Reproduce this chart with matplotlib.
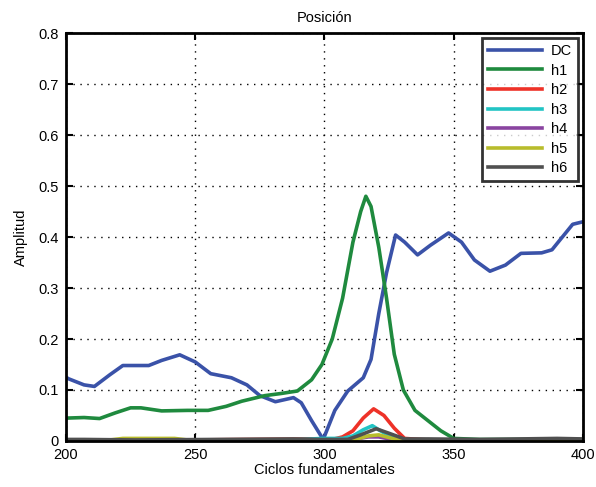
import matplotlib
matplotlib.use("Agg")
import matplotlib.pyplot as plt

plt.rcParams['font.family'] = ['Liberation Sans', 'DejaVu Sans']

# DC component
dc_x = [200, 201, 207, 211, 217, 222, 232, 237, 244, 250, 256, 264, 270, 275, 281, 288,
        291, 295, 299.5, 304, 309, 315, 318, 321, 324, 327.5, 331, 336, 341, 348, 353, 358,
        364, 370, 376, 384, 388, 392, 396, 400]
dc_y = [0.125, 0.122, 0.110, 0.107, 0.130, 0.148, 0.148, 0.158, 0.169, 0.155, 0.132, 0.124,
        0.110, 0.089, 0.077, 0.085, 0.075, 0.040, 0.003, 0.060, 0.098, 0.124, 0.160, 0.250,
        0.330, 0.404, 0.390, 0.365, 0.384, 0.408, 0.390, 0.355, 0.333, 0.345, 0.368, 0.369,
        0.375, 0.400, 0.425, 0.430]

# first harmonic
h1_x = [200, 201, 207, 213, 219, 225, 229, 237, 247, 255, 262, 268, 277, 283, 289.5, 295,
        299, 303, 307, 311, 314, 316, 318, 321, 324, 327, 330.5, 335, 340, 345, 350, 360, 400]
h1_y = [0.045, 0.045, 0.046, 0.044, 0.055, 0.065, 0.065, 0.059, 0.060, 0.060, 0.068, 0.078,
        0.089, 0.093, 0.098, 0.120, 0.150, 0.200, 0.280, 0.390, 0.450, 0.480, 0.460, 0.380,
        0.280, 0.170, 0.100, 0.060, 0.040, 0.020, 0.005, 0.003, 0.003]

h2_x = [200, 248, 297, 303, 307, 311, 315, 319, 323, 327, 331, 340, 400]
h2_y = [0.002, 0.002, 0.004, 0.003, 0.008, 0.020, 0.045, 0.063, 0.050, 0.025, 0.005, 0.002, 0.002]

h3_x = [200, 258, 288, 299, 307, 311, 315, 318.5, 321, 325, 329, 340, 400]
h3_y = [0.001, 0.001, 0.002, 0.005, 0.005, 0.010, 0.022, 0.030, 0.022, 0.010, 0.002, 0.001, 0.001]

h4_x = [200, 299, 311, 317, 321, 327, 400]
h4_y = [0.001, 0.001, 0.003, 0.008, 0.008, 0.002, 0.001]

h5_x = [200, 217, 222, 242, 247, 299, 311, 317, 321, 327, 334, 400]
h5_y = [0.002, 0.002, 0.005, 0.005, 0.002, 0.002, 0.002, 0.010, 0.012, 0.004, 0.002, 0.002]

h6_x = [200, 207, 227, 258, 288, 299, 309, 314, 320, 325, 331, 340, 360, 390, 400]
h6_y = [0.003, 0.003, 0.002, 0.003, 0.004, 0.003, 0.003, 0.012, 0.024, 0.015, 0.004, 0.004,
        0.003, 0.005, 0.004]

series = [
    ("DC", dc_x, dc_y, "#3a52a8"),
    ("h1", h1_x, h1_y, "#1f8a3e"),
    ("h2", h2_x, h2_y, "#ee3228"),
    ("h3", h3_x, h3_y, "#22c4c4"),
    ("h4", h4_x, h4_y, "#8a44a0"),
    ("h5", h5_x, h5_y, "#b8bc2c"),
    ("h6", h6_x, h6_y, "#505050"),
]

fig = plt.figure(figsize=(5.96, 4.87), dpi=100)
ax = fig.add_axes([0.1107, 0.0945, 0.8675, 0.8375])

for name, xs, ys, col in series:
    ax.plot(xs, ys, color=col, linewidth=2.6, label=name)

ax.set_xlim(200, 400)
ax.set_ylim(0, 0.8)
ax.set_xticks([200, 250, 300, 350, 400])
ax.set_yticks([0, 0.1, 0.2, 0.3, 0.4, 0.5, 0.6, 0.7, 0.8])
ax.set_yticklabels(["0", "0.1", "0.2", "0.3", "0.4", "0.5", "0.6", "0.7", "0.8"])
ax.grid(True, color="black", linestyle=(0, (1, 4)), linewidth=1.0)
ax.tick_params(direction="in", top=True, right=True, length=5, width=1.5,
               labelsize=10.5, pad=5)
for s in ax.spines.values():
    s.set_linewidth(2)

ax.set_title("Posición", fontsize=10.5, pad=8)
ax.set_xlabel("Ciclos fundamentales", fontsize=10.5, labelpad=1)
ax.set_ylabel("Amplitud", fontsize=10.5, labelpad=8)

leg = ax.legend(loc="upper right", fontsize=10.5, frameon=True, fancybox=False,
                edgecolor="black", handlelength=3.7, labelspacing=0.38,
                borderaxespad=0.35, handletextpad=0.6)
leg.get_frame().set_linewidth(2)

fig.savefig("out.png", dpi=100)
